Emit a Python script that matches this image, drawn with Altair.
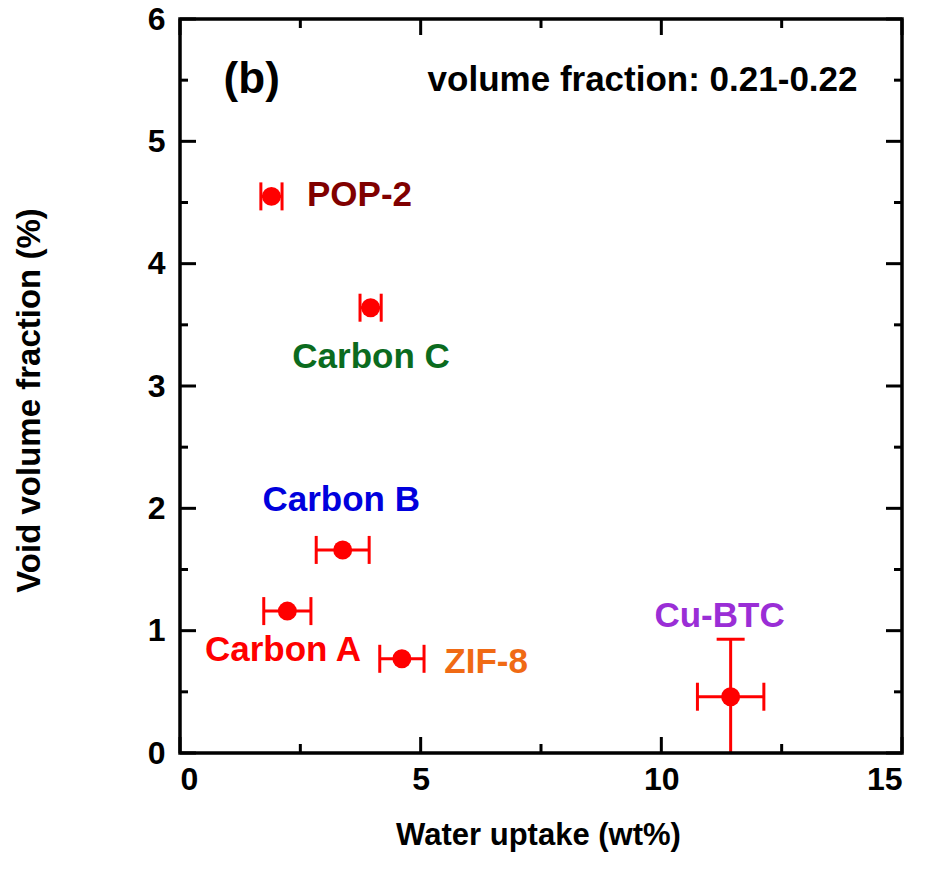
import altair as alt
import pandas as pd

# Sorbent measurements
materials = ["POP-2", "Carbon C", "Carbon B", "Carbon A", "ZIF-8", "Cu-BTC"]
water_uptake = [1.90, 3.96, 3.38, 2.23, 4.61, 11.44]
water_uptake_err = [0.22, 0.22, 0.55, 0.49, 0.46, 0.69]
void_fraction = [4.55, 3.64, 1.66, 1.16, 0.77, 0.46]
void_fraction_err = [0.0, 0.0, 0.0, 0.0, 0.0, 0.47]

# Label anchors (data units) and colours
label_x = [3.73, 3.97, 3.35, 2.14, 6.36, 11.21]
label_y = [4.565, 3.24, 2.07, 0.84, 0.745, 1.12]
label_colors = ["#800000", "#0b6b1e", "#0000dd", "#ff0000", "#f06a14", "#9a2ed6"]

x_major = [0, 5, 10, 15]
x_minor = [2.5, 7.5, 12.5]
y_major = [0, 1, 2, 3, 4, 5, 6]
y_minor = [0.5, 1.5, 2.5, 3.5, 4.5, 5.5]

W, H = 722, 734
FONT = "Liberation Sans"

df = pd.DataFrame({
    "material": materials,
    "uptake": water_uptake,
    "uptake_lo": [u - e for u, e in zip(water_uptake, water_uptake_err)],
    "uptake_hi": [u + e for u, e in zip(water_uptake, water_uptake_err)],
    "void": void_fraction,
    "void_lo": [v - e for v, e in zip(void_fraction, void_fraction_err)],
    "void_hi": [v + e for v, e in zip(void_fraction, void_fraction_err)],
    "has_yerr": [e > 0 for e in void_fraction_err],
    "lx": label_x,
    "ly": label_y,
    "color": label_colors,
})

xs = alt.Scale(domain=[0, 15], nice=False)
ys = alt.Scale(domain=[0, 6], nice=False)

x_axis = alt.Axis(values=x_major, format="d", ticks=False, domain=False, grid=False,
                  labelFont=FONT, labelFontSize=32, labelFontWeight="bold",
                  labelColor="black", labelPadding=11,
                  title="Water uptake (wt%)", titleFont=FONT, titleFontSize=31,
                  titleFontWeight="bold", titleColor="black",
                  titleX=358, titleY=82, titleBaseline="middle", titleAlign="center")
y_axis = alt.Axis(values=y_major, format="d", ticks=False, domain=False, grid=False,
                  labelFont=FONT, labelFontSize=32, labelFontWeight="bold",
                  labelColor="black", labelPadding=15,
                  title="Void volume fraction (%)", titleFont=FONT, titleFontSize=33,
                  titleFontWeight="bold", titleColor="black",
                  titleX=-151, titleY=381, titleBaseline="middle", titleAlign="center")

base = alt.Chart(df)
RED = "#ff0000"

# Horizontal error bars with caps
xerr = base.mark_rule(color=RED, strokeWidth=3, opacity=1, clip=True).encode(
    x=alt.X("uptake_lo:Q", scale=xs, axis=x_axis),
    x2="uptake_hi:Q",
    y=alt.Y("void:Q", scale=ys, axis=y_axis),
)
xcap_lo = base.mark_tick(color=RED, opacity=1, orient="vertical", size=28, thickness=3, clip=True).encode(
    x=alt.X("uptake_lo:Q", scale=xs), y=alt.Y("void:Q", scale=ys))
xcap_hi = base.mark_tick(color=RED, opacity=1, orient="vertical", size=28, thickness=3, clip=True).encode(
    x=alt.X("uptake_hi:Q", scale=xs), y=alt.Y("void:Q", scale=ys))

# Vertical error bars (only where an uncertainty is given)
yb = base.transform_filter("datum.has_yerr")
yerr = yb.mark_rule(color=RED, strokeWidth=3, opacity=1, clip=True).encode(
    x=alt.X("uptake:Q", scale=xs), y=alt.Y("void_lo:Q", scale=ys), y2="void_hi:Q")
ycap_lo = yb.mark_tick(color=RED, opacity=1, orient="horizontal", size=28, thickness=3, clip=True).encode(
    x=alt.X("uptake:Q", scale=xs), y=alt.Y("void_lo:Q", scale=ys))
ycap_hi = yb.mark_tick(color=RED, opacity=1, orient="horizontal", size=28, thickness=3, clip=True).encode(
    x=alt.X("uptake:Q", scale=xs), y=alt.Y("void_hi:Q", scale=ys))

points = base.mark_circle(color=RED, opacity=1, size=360).encode(
    x=alt.X("uptake:Q", scale=xs), y=alt.Y("void:Q", scale=ys))

labels = base.mark_text(font=FONT, fontSize=35, fontWeight="bold", align="center",
                        baseline="middle").encode(
    x=alt.X("lx:Q", scale=xs), y=alt.Y("ly:Q", scale=ys),
    text="material:N", color=alt.Color("color:N", scale=None))

notes = alt.Chart(pd.DataFrame({
    "t": ["(b)", "volume fraction: 0.21-0.22"],
    "x": [1.49, 9.61], "y": [5.505, 5.505], "fs": [44, 35],
})).mark_text(font=FONT, fontWeight="bold", color="black", align="center",
              baseline="middle").encode(
    x=alt.X("x:Q", scale=xs), y=alt.Y("y:Q", scale=ys), text="t:N",
    size=alt.Size("fs:Q", scale=None))

# Inward ticks on all four sides
xmaj = pd.DataFrame({"v": x_major})
xmin = pd.DataFrame({"v": x_minor})
ymaj = pd.DataFrame({"v": y_major})
ymin = pd.DataFrame({"v": y_minor})

def xticks(d, length):
    bot = alt.Chart(d).mark_rule(color="black", strokeWidth=3).encode(
        x=alt.X("v:Q", scale=xs), y=alt.value(H), y2=alt.value(H - length))
    top = alt.Chart(d).mark_rule(color="black", strokeWidth=3).encode(
        x=alt.X("v:Q", scale=xs), y=alt.value(0), y2=alt.value(length))
    return bot + top

def yticks(d, length):
    left = alt.Chart(d).mark_rule(color="black", strokeWidth=3).encode(
        y=alt.Y("v:Q", scale=ys), x=alt.value(0), x2=alt.value(length))
    right = alt.Chart(d).mark_rule(color="black", strokeWidth=3).encode(
        y=alt.Y("v:Q", scale=ys), x=alt.value(W), x2=alt.value(W - length))
    return left + right

frame = alt.Chart(pd.DataFrame({"a": [0]})).mark_rect(
    fillOpacity=0, stroke="black", strokeWidth=3.5, strokeOpacity=1).encode(
    x=alt.value(0), x2=alt.value(W), y=alt.value(0), y2=alt.value(H))

chart = alt.layer(
    xerr, xcap_lo, xcap_hi, yerr, ycap_lo, ycap_hi, points, labels, notes,
    xticks(xmaj, 16), xticks(xmin, 9), yticks(ymaj, 16), yticks(ymin, 8), frame,
).properties(
    width=W, height=H,
    autosize=alt.AutoSizeParams(type="none"),
    padding={"left": 180, "top": 19, "right": 23, "bottom": 129},
    background="white",
).configure_view(stroke=None)

chart.save("out.html", embed_options={"renderer": "svg", "actions": False})
